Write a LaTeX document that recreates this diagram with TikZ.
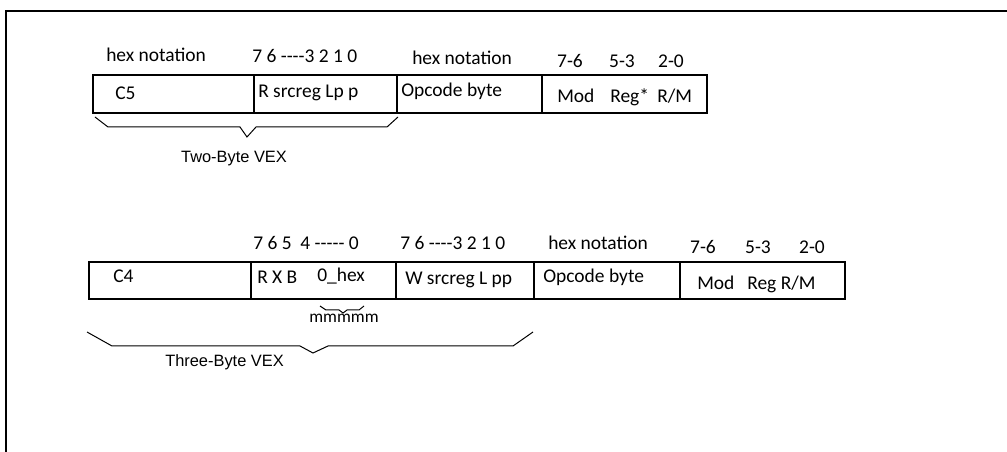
\documentclass[tikz,border=0pt]{standalone}
\usepackage{fontspec}
\setmainfont{Carlito}
\newfontfamily\arialf{Liberation Sans}
\usetikzlibrary{fit}
\newcommand{\myhy}{\mbox{-}}
\begin{document}
\begin{tikzpicture}[x=0.75pt,y=-0.75pt,
  field/.style={draw, line width=1.5pt, inner sep=0pt, fit={#1}},
  lab/.style={inner sep=0pt, font=\fontsize{14.6pt}{16pt}\selectfont},
  small/.style={inner sep=0pt, font=\fontsize{13pt}{14pt}\selectfont},
  captext/.style={inner sep=0pt, font=\arialf\fontsize{12.3pt}{14pt}\selectfont},
  brace/.style={draw, line width=0.75pt},
  frame/.style={draw, line width=1.5pt}]
\useasboundingbox (0,0) rectangle (1007,452);
% frame
\coordinate (fa) at (6,452);
\coordinate (fb) at (6,11);
\coordinate (fc) at (1007,11);
\draw[frame] (fa) -- (fb) -- (fc);

% ---- two-byte VEX ----
\node[field={(93,75) (254,113)}] (c5) {};
\node[field={(254,75) (397,113)}] (p1) {};
\node[field={(397,75) (542,113)}] (op1) {};
\node[field={(542,75) (707,113)}] (mr1) {};

\node[lab, anchor=base west] (h1) at (106,62) {hex notation};
\node[lab, anchor=base west] (b1) at (252,63) {7 6 \myhy\myhy\myhy\myhy3 2 1 0};
\node[lab, anchor=base west] (h2) at (412,65) {hex notation};
\node[lab, anchor=base] (m76a) at (570,68) {7\myhy6};
\node[lab, anchor=base] (m53a) at (622,68) {5\myhy3};
\node[lab, anchor=base] (m20a) at (671,68) {2\myhy0};

\node[lab, anchor=base west] (tc5) at (115,100) {C5};
\node[lab, anchor=base west] (tp1) at (258,98) {R srcreg Lp p};
\node[lab, anchor=base west] (top1) at (401,97) {Opcode byte};
\node[lab, anchor=base west] (tmod1) at (557,103) {Mod};
\node[lab, anchor=base west] (treg1) at (610,103) {Reg*};
\node[lab, anchor=base west] (trm1) at (657,103) {R/M};

\coordinate (ba1) at (95,117);
\coordinate (ba2) at (108,127);
\coordinate (ba3) at (240,127);
\coordinate (ba4) at (247,137);
\coordinate (ba5) at (256,127);
\coordinate (ba6) at (387,127);
\coordinate (ba7) at (398,117);
\draw[brace] (ba1) -- (ba2) -- (ba3) -- (ba4) -- (ba5) -- (ba6) -- (ba7);
\node[captext, anchor=base] (two) at (234,163) {Two-Byte VEX};

% ---- three-byte VEX ----
\node[field={(89,262) (251,299)}] (c4) {};
\node[field={(251,262) (396,299)}] (p2) {};
\node[field={(396,262) (534,299)}] (p3) {};
\node[field={(534,262) (680,299)}] (op2) {};
\node[field={(680,262) (845,299)}] (mr2) {};

\node[lab, anchor=base west] (b2) at (253,250) {7 6 5 \ 4 \myhy\myhy\myhy\myhy\myhy\ 0};
\node[lab, anchor=base west] (b3) at (400,250) {7 6 \myhy\myhy\myhy\myhy3 2 1 0};
\node[lab, anchor=base west] (h3) at (548,250) {hex notation};
\node[lab, anchor=base] (m76b) at (703,254) {7\myhy6};
\node[lab, anchor=base] (m53b) at (758,254) {5\myhy3};
\node[lab, anchor=base] (m20b) at (812,254) {2\myhy0};

\node[lab, anchor=base west] (tc4) at (113,283) {C4};
\node[lab, anchor=base west] (trxb) at (257,284) {R X B};
\node[lab, anchor=base west] (thex) at (317,282) {0\_hex};
\node[lab, anchor=base west] (tp3) at (405,285) {W srcreg L pp};
\node[lab, anchor=base west] (top2) at (543,283) {Opcode byte};
\node[lab, anchor=base west] (tmod2) at (697,290) {Mod};
\node[lab, anchor=base west] (treg2) at (747,290) {Reg R/M};

\coordinate (sa1) at (320,306);
\coordinate (sa2) at (326,310);
\coordinate (sa3) at (339,310);
\coordinate (sa4) at (343,313);
\coordinate (sa5) at (347,310);
\coordinate (sa6) at (359,310);
\coordinate (sa7) at (364,306);
\draw[brace] (sa1) -- (sa2) -- (sa3) -- (sa4) -- (sa5) -- (sa6) -- (sa7);
\node[small, anchor=base] (mm) at (344,323) {mmmmm};

\coordinate (bb1) at (87,332);
\coordinate (bb2) at (112,346);
\coordinate (bb3) at (300,346);
\coordinate (bb4) at (313,353);
\coordinate (bb5) at (328,346);
\coordinate (bb6) at (513,346);
\coordinate (bb7) at (533,332);
\draw[brace] (bb1) -- (bb2) -- (bb3) -- (bb4) -- (bb5) -- (bb6) -- (bb7);
\node[captext, anchor=base west] (three) at (165,367) {Three-Byte VEX};
\end{tikzpicture}
\end{document}
